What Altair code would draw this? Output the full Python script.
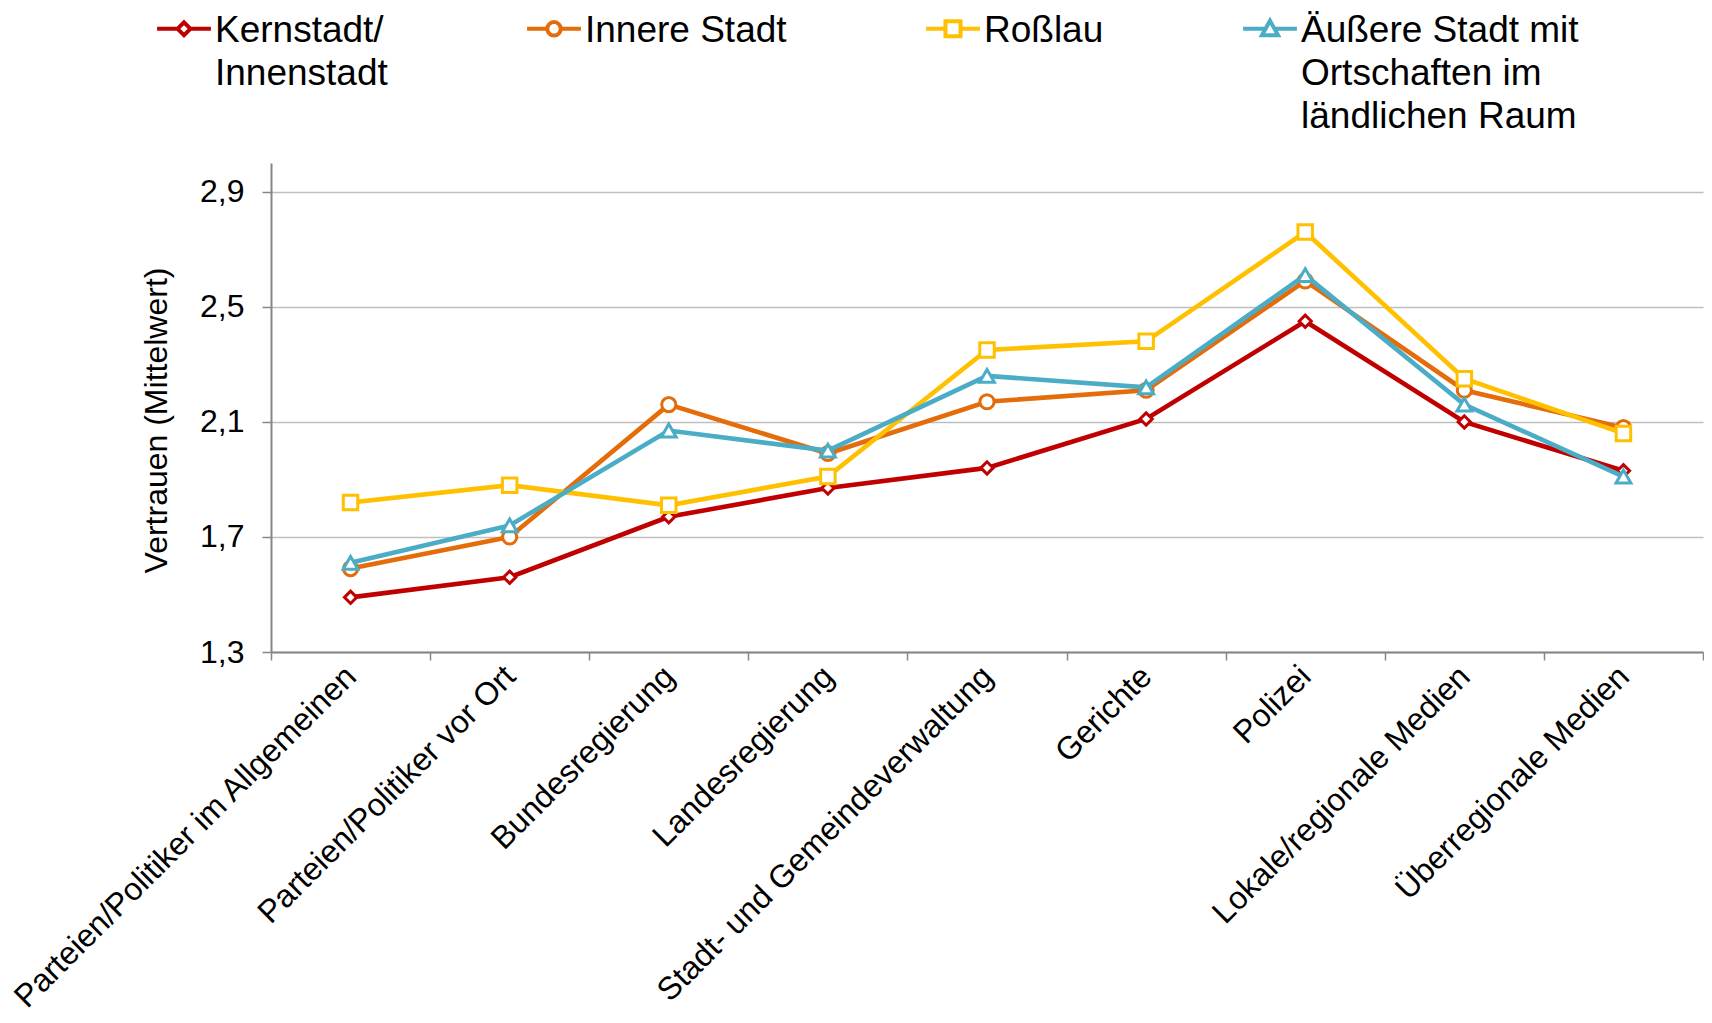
import altair as alt
import pandas as pd

categories = [
    "Parteien/Politiker im Allgemeinen",
    "Parteien/Politiker vor Ort",
    "Bundesregierung",
    "Landesregierung",
    "Stadt- und Gemeindeverwaltung",
    "Gerichte",
    "Polizei",
    "Lokale/regionale Medien",
    "Überregionale Medien",
]
series_names = [
    "Kernstadt/Innenstadt",
    "Innere Stadt",
    "Roßlau",
    "Äußere Stadt mit Ortschaften im ländlichen Raum",
]
legend_lines = [
    ["Kernstadt/", "Innenstadt"],
    ["Innere Stadt"],
    ["Roßlau"],
    ["Äußere Stadt mit", "Ortschaften im", "ländlichen Raum"],
]
kernstadt = [1.49, 1.56, 1.77, 1.87, 1.94, 2.11, 2.45, 2.10, 1.93]
innere = [1.59, 1.70, 2.16, 1.99, 2.17, 2.21, 2.59, 2.21, 2.08]
rosslau = [1.82, 1.88, 1.81, 1.91, 2.35, 2.38, 2.76, 2.25, 2.06]
aeussere = [1.61, 1.74, 2.07, 2.00, 2.26, 2.22, 2.61, 2.16, 1.91]
colors = ["#C00000", "#E46C0A", "#FFC000", "#4BACC6"]
y_ticks = [1.3, 1.7, 2.1, 2.5, 2.9]

FONT = "Liberation Sans"

rows = []
for name, vals in zip(series_names, [kernstadt, innere, rosslau, aeussere]):
    for c, v in zip(categories, vals):
        rows.append({"Kategorie": c, "Gebiet": name, "Wert": v})
df = pd.DataFrame(rows)

# legend symbol paths: line stub + marker (shifted up to sit on the first label line)
c = -0.49
legend_paths = [
    f"M-1,{c}L-0.24,{c}M0.24,{c}L1,{c}M0,{c-0.24}L0.24,{c}L0,{c+0.24}L-0.24,{c}Z",
    f"M-1,{c}L-0.25,{c}M0.25,{c}L1,{c}M0.25,{c}A0.25,0.25 0 1 1 -0.25,{c}A0.25,0.25 0 1 1 0.25,{c}Z",
    f"M-1,{c}L-0.28,{c}M0.28,{c}L1,{c}M-0.28,{c-0.28}L0.28,{c-0.28}L0.28,{c+0.28}L-0.28,{c+0.28}Z",
    f"M-1,{c}L-0.2,{c}M0.2,{c}L1,{c}M0,{c-0.3}L0.3,{c+0.24}L-0.3,{c+0.24}Z",
]


def lookup_expr(values):
    expr = values[-1]
    for name, val in reversed(list(zip(series_names[:-1], values[:-1]))):
        expr = f"datum.value === '{name}' ? {val} : ({expr})"
    return expr


shape_expr = lookup_expr([f"'{p}'" for p in legend_paths])
label_expr = lookup_expr(
    ["[" + ",".join(f"'{t}'" for t in lines) + "]" for lines in legend_lines]
)

legend = alt.Legend(
    title=None,
    orient="none",
    legendX=-116,
    legendY=-150,
    direction="horizontal",
    columns=4,
    gridAlign="none",
    columnPadding=131,
    padding=0,
    symbolType={"expr": shape_expr},
    symbolSize=2900,
    symbolStrokeWidth=4,
    symbolFillColor="white",
    symbolOpacity=1,
    labelFont=FONT,
    labelFontSize=37,
    labelColor="black",
    labelOffset=2,
    labelLimit=600,
    labelBaseline="alphabetic",
    labelExpr=label_expr,
)

stroke_scale = alt.Scale(domain=series_names, range=colors)

x_axis = alt.Axis(
    title=None,
    labelAngle=-45,
    labelAlign="right",
    labelBaseline="middle",
    labelFont=FONT,
    labelFontSize=32,
    labelColor="black",
    labelLimit=700,
    labelPadding=11,
    tickBand="extent",
    tickSize=8,
    tickColor="#868686",
    tickWidth=1.5,
    domainColor="#868686",
    domainWidth=2,
    grid=False,
)
y_axis = alt.Axis(
    title="Vertrauen (Mittelwert)",
    titleFont=FONT,
    titleFontSize=32,
    titleFontWeight="normal",
    titleColor="black",
    titlePadding=26,
    titleY=257,
    values=y_ticks,
    labelExpr="replace(format(datum.value, '.1f'), '.', ',')",
    labelFont=FONT,
    labelFontSize=32,
    labelColor="black",
    labelPadding=18,
    tickSize=9,
    tickColor="#868686",
    tickWidth=1.5,
    domainColor="#868686",
    domainWidth=2,
    grid=True,
    gridColor="#BFBFBF",
    gridWidth=1.5,
)

x_enc = alt.X(
    "Kategorie:N",
    sort=categories,
    scale=alt.Scale(type="band", paddingInner=0, paddingOuter=0),
    axis=x_axis,
)
y_enc = alt.Y(
    "Wert:Q",
    scale=alt.Scale(domain=[1.3, 3.0], nice=False, zero=False),
    axis=y_axis,
)
stroke_enc = alt.Stroke("Gebiet:N", scale=stroke_scale, legend=legend)

shapes = ["diamond", "circle", "square", "triangle-up"]
sizes = [150, 200, 210, 220]

layers = []
for i, name in enumerate(series_names):
    base = alt.Chart(df).transform_filter(alt.datum.Gebiet == name)
    line = base.mark_line(strokeWidth=4.6).encode(x=x_enc, y=y_enc, stroke=stroke_enc)
    pts = base.mark_point(
        shape=shapes[i], size=sizes[i], filled=True, fill="white",
        strokeWidth=3, opacity=1,
    ).encode(x=x_enc, y=y_enc, stroke=stroke_enc)
    layers += [line, pts]

chart = (
    alt.layer(*layers)
    .properties(
        width=1696,
        height=1007,
        autosize=alt.AutoSizeParams(type="fit", contains="padding"),
        padding={"left": 13, "top": 155, "right": 0, "bottom": 0},
        view=alt.ViewBackground(stroke="transparent", strokeWidth=0),
    )
    .configure_view(stroke="transparent", strokeWidth=0)
    .configure(style={"guide-label": {"lineHeight": 43}})
)

chart.save("out.html", embed_options={"renderer": "svg", "actions": False})
